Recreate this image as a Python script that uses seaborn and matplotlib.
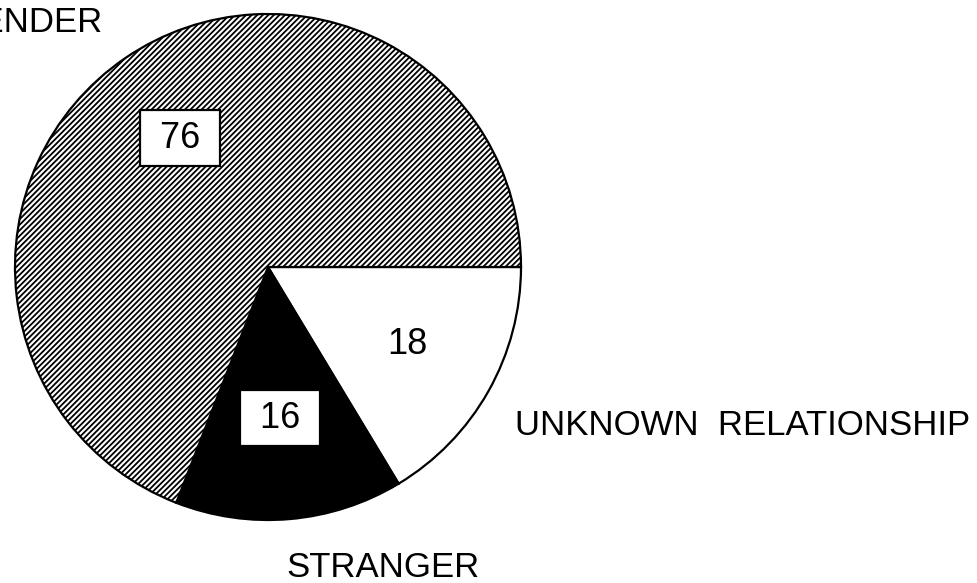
import matplotlib
matplotlib.use("Agg")
import matplotlib.pyplot as plt
import seaborn as sns

# Data
categories = ["UNKNOWN  RELATIONSHIP", "STRANGER", "OFFENDER"]
values = [18, 16, 76]
value_labels = ["18", "16", "76"]

sns.set_theme(style="white")
plt.rcParams['font.family'] = ['Liberation Sans', 'DejaVu Sans']
plt.rcParams['hatch.linewidth'] = 1.3
plt.rcParams['text.color'] = 'black'

W, H = 978, 583
fig = plt.figure(figsize=(W / 100, H / 100), dpi=100)
fig.patch.set_facecolor("white")

cx, cy, r = 268, 267, 253
ax = fig.add_axes([(cx - r) / W, (H - cy - r) / H, 2 * r / W, 2 * r / H])

colors = ["white", "black", "white"]
wedges, _ = ax.pie(values, colors=colors, startangle=0, counterclock=False,
                   radius=1, center=(0, 0), frame=True,
                   wedgeprops=dict(edgecolor="black", linewidth=1.6))
wedges[2].set_hatch("//////")
ax.set_xlim(-1, 1)
ax.set_ylim(-1, 1)
ax.set_aspect("auto")
ax.axis("off")

def d(px, py):
    return ((px - cx) / r, (cy - py) / r)

fs = 25
box = dict(boxstyle="square,pad=0.28", facecolor="white", edgecolor="black", linewidth=1.6)
# value labels
ax.text(*d(180, 138), " " + value_labels[2] + " ", fontsize=26, ha="center", va="center", bbox=box)
ax.text(*d(280, 418), " " + value_labels[1] + " ", fontsize=26, ha="center", va="center", bbox=box)
ax.text(*d(407, 345), value_labels[0], fontsize=26, ha="center", va="center")

# category labels
ax.text(*d(103, 32), categories[2], fontsize=fs, ha="right", va="baseline", clip_on=False)
ax.text(*d(515, 435), categories[0], fontsize=fs, ha="left", va="baseline", clip_on=False)
ax.text(*d(383, 577), categories[1], fontsize=fs, ha="center", va="baseline", clip_on=False)

fig.savefig("out.png", dpi=100, facecolor="white")
